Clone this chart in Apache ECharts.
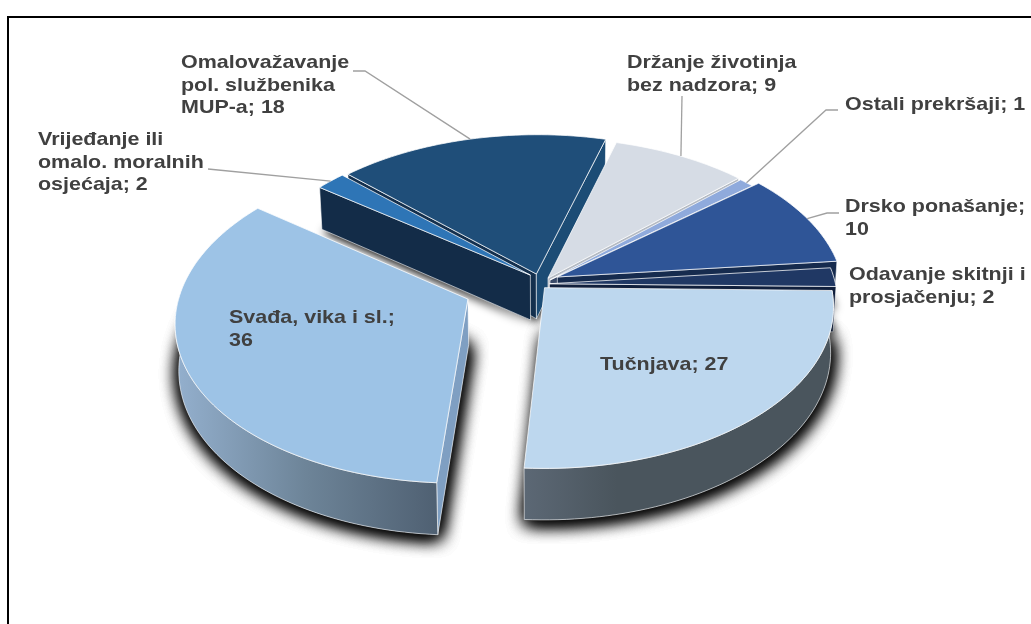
<!DOCTYPE html>
<html><head><meta charset="utf-8">
<style>html,body{margin:0;padding:0;background:#fff}#c{width:1031px;height:624px}</style>
<script src="https://cdn.jsdelivr.net/npm/echarts@6/dist/echarts.min.js"></script>
</head><body><div id="c"></div>
<script>
// clockwise from east
const categories = ['Tučnjava','Svađa, vika i sl.','Vrijeđanje ili omalo. moralnih osjećaja','Omalovažavanje pol. službenika MUP-a','Držanje životinja bez nadzora','Ostali prekršaji','Drsko ponašanje','Odavanje skitnji i prosjačenju'];
const values = [27,36,2,18,9,1,10,2];
const labels = ['Tučnjava; 27','Svađa, vika i sl.;\n36','Vrijeđanje ili\nomalo. moralnih\nosjećaja; 2','Omalovažavanje\npol. službenika\nMUP-a; 18','Držanje životinja\nbez nadzora; 9','Ostali prekršaji; 1','Drsko ponašanje;\n10','Odavanje skitnji i\nprosjačenju; 2'];
const topColors = ['#BDD7EE','#9DC3E6','#2E75B6','#1F4E79','#D6DCE5','#8FAADC','#2F5597','#203864'];
const faceStart = ['#4B565E','#7F9FC2','#132C48','#14304E','#A9AFB8','#6F88B0','#1E3A66','#101F3C'];
const faceEnd   = ['#55636F','#7F9FC2','#132C48','#1C4C75','#B4BAC3','#3A4A68','#162B4E','#101F3C'];
const wallStops = [
  [[0,'#5C6875'],[0.3,'#4A555D'],[1,'#4A555D']],
  [[0,'#94B0CE'],[0.5,'#6D8498'],[1,'#4F6072']],
  [[0,'#132C48'],[1,'#132C48']],[[0,'#14304E'],[1,'#14304E']],
  [[0,'#A9AFB8'],[1,'#A9AFB8']],[[0,'#6F88B0'],[1,'#6F88B0']],
  [[0,'#1E3A66'],[1,'#1E3A66']],[[0,'#101F3C'],[1,'#101F3C']]
];
// slice displacement on the pie's plane, in radii
const shiftX = [-0.005,-0.27,-0.055,-0.034,0.007,0.014,0.04,0.012];
const shiftY = [0.055,0.126,-0.025,-0.032,-0.006,0.006,-0.013,0.03];
const paintOrder = [3,2,4,5,6,7,1,0];
// label boxes (left, vertical centre of the first line) and leader elbows
const labelAt = [[600,365],[229,318],[38,140],[181,63],[627,63],[845,105],[845,207],[849,275]];
const leaderVia = [null,null,[[208,169]],[[365,71],[353,71]],[[682,96]],[[826,110],[838,110]],[[827,213],[839,213]],null];

const CX=546, CY=279, A=285, B=157, P=0.119, H=45, K=0.99, START=1;
const total = values.reduce((a,b)=>a+b,0);
const angles=[]; { let t=START; values.forEach(v=>{const d=v/total*360; angles.push([t,t+d]); t+=d;}); }
function proj(U,V,bottom){
  const s=1/(1-P*V);
  let x=A*U*s, y=B*V*s;
  if(bottom){ x*=K; y+=H*s; }
  return [CX+x,CY+y];
}
function rim(i,deg,bottom){
  const r=deg*Math.PI/180;
  return proj(Math.cos(r)+shiftX[i],Math.sin(r)+shiftY[i],bottom);
}
function apex(i,bottom){ return proj(shiftX[i],shiftY[i],bottom); }
function arcAngles(i){
  const [a,b]=angles[i], n=Math.max(4,Math.ceil((b-a)/1.5)), out=[];
  for(let k=0;k<=n;k++) out.push(a+(b-a)*k/n);
  return out;
}
const wire={stroke:'rgba(255,255,255,0.6)',lineWidth:1};
function renderItem(params){
  const i=paintOrder[params.dataIndex];
  const base=10+params.dataIndex*10;
  const degs=arcAngles(i);
  const topArc=degs.map(d=>rim(i,d,false)), botArc=degs.map(d=>rim(i,d,true));
  const ap=apex(i,false), apB=apex(i,true);
  const last=topArc.length-1;
  const kids=[];
  const poly=(points,style,z)=>kids.push({type:'polygon',shape:{points},style,z2:z,silent:true});
  const heavy=(i===0||i===1);
  const castFill=wallStops[i][wallStops[i].length-1][1];
  const cast={fill:castFill,shadowBlur:heavy?18:10,shadowColor:'#000',shadowOffsetX:1,shadowOffsetY:3};
  poly([apB].concat(botArc),cast,base);
  if(heavy){ poly([apB].concat(botArc),cast,base); poly([apB].concat(botArc),cast,base); }
  if(topArc[0][0]<ap[0]) poly([ap,topArc[0],botArc[0],apB],Object.assign({fill:faceStart[i]},wire),base+1);
  if(topArc[last][0]>ap[0]) poly([ap,topArc[last],botArc[last],apB],Object.assign({fill:faceEnd[i]},wire),base+2);
  const front=degs.map((d,k)=>k).filter(k=>Math.sin(degs[k]*Math.PI/180)>=0);
  if(front.length>1){
    const t=front.map(k=>topArc[k]), b=front.map(k=>botArc[k]).reverse();
    poly(t.concat(b),Object.assign({fill:{type:'linear',x:0,y:0,x2:1,y2:0,colorStops:wallStops[i].map(s=>({offset:s[0],color:s[1]}))}},wire),base+3);
  }
  poly([ap].concat(topArc),{fill:topColors[i],stroke:'rgba(255,255,255,0.75)',lineWidth:1},base+4);
  return {type:'group',children:kids};
}
function renderLabel(params){
  const i=params.dataIndex;
  const kids=[];
  if(leaderVia[i]){
    const mid=(angles[i][0]+angles[i][1])/2;
    kids.push({type:'polyline',shape:{points:[rim(i,mid,false)].concat(leaderVia[i])},style:{stroke:'#a0a0a0',lineWidth:1.3,fill:null},z2:200,silent:true});
  }
  kids.push({type:'text',x:labelAt[i][0],y:labelAt[i][1]-11,scaleX:1.13,z2:210,silent:true,style:{text:labels[i],fill:'#404040',font:'bold 19px "Liberation Sans"',lineHeight:22.5,textAlign:'left',textVerticalAlign:'top'}});
  return {type:'group',children:kids};
}
const chart=echarts.init(document.getElementById('c'),null,{renderer:'canvas'});
chart.setOption({
  animation:false,
  backgroundColor:'#fff',
  graphic:[
    {type:'line',shape:{x1:8,y1:17,x2:1031,y2:17},style:{stroke:'#000',lineWidth:2}},
    {type:'line',shape:{x1:8,y1:16,x2:8,y2:624},style:{stroke:'#000',lineWidth:2}}
  ],
  series:[
    {type:'custom',coordinateSystem:'none',renderItem,data:paintOrder.map(i=>({name:categories[i],value:values[i]})),z:2,silent:true},
    {type:'custom',coordinateSystem:'none',renderItem:renderLabel,data:categories.map((c,i)=>({name:c,value:values[i]})),z:3,silent:true}
  ]
});
</script></body></html>
